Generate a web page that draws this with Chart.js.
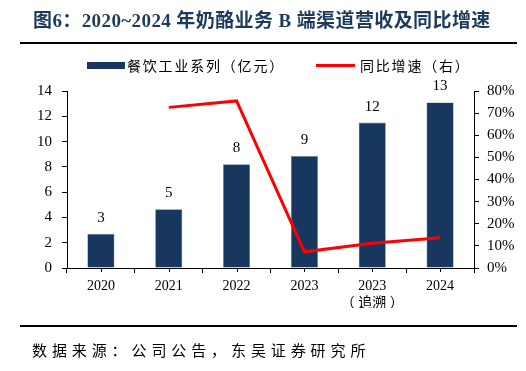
<!DOCTYPE html>
<html><head><meta charset="utf-8">
<script src="https://cdn.jsdelivr.net/npm/chart.js@4"></script>
<style>
html,body{margin:0;padding:0;background:#fff;}
#wrap{position:relative;width:526px;height:371px;overflow:hidden;}
canvas{position:absolute;left:0;top:0;}
.t{position:absolute;white-space:nowrap;}
#title{left:33px;top:5px;font:bold 19px 'Liberation Serif','Noto Sans CJK SC';color:#1b3a5c;letter-spacing:0.4px;}
.hr{position:absolute;left:20px;width:497px;height:2px;background:#000;}
#leg{top:55px;font:14px 'Noto Sans CJK SC';color:#000;letter-spacing:1.8px;}
#src{left:32px;top:339px;font:15px 'Noto Sans CJK SC';color:#000;letter-spacing:4.9px;}
</style></head>
<body><div id="wrap">
<canvas id="c" width="526" height="371"></canvas>
<div class="t" id="title">图6：2020~2024 年奶酪业务 B 端渠道营收及同比增速</div>
<div class="hr" style="top:42px"></div>
<div class="t" id="leg" style="left:87px"><span style="display:inline-block;width:38px;height:7px;background:#17375e;vertical-align:middle;margin-right:2px;margin-top:-3px"></span>餐饮工业系列（亿元）</div>
<div class="t" id="leg2" style="left:316px;top:55px;font:14px 'Noto Sans CJK SC';letter-spacing:1.8px;"><span style="display:inline-block;width:39px;height:3px;background:#ff0000;vertical-align:middle;margin-right:5px;margin-top:-3px"></span>同比增速（右）</div>
<div class="hr" style="top:325px"></div>
<div class="t" id="src">数据来源：公司公告，东吴证券研究所</div>
</div>
<script>
const categories = [['2020'], ['2021'], ['2022'], ['2023'], ['2023', '（ 追溯 ）'], ['2024']];
const revenue = [2.7, 4.65, 8.2, 8.85, 11.5, 13.1];
const revenueLabels = ['3', '5', '8', '9', '12', '13'];
const growth = [null, 72.6, 75.5, 7.3, 11.2, 13.7];
const leftTicks = [0, 14, 2];
const rightTicks = [0, 80, 10];

const serif = "'Liberation Serif','Noto Sans CJK SC'";

const labelPlugin = {
  id: 'barLabels',
  afterDatasetsDraw(chart) {
    const ctx = chart.ctx;
    const meta = chart.getDatasetMeta(1);
    ctx.save();
    ctx.font = "15px " + serif;
    ctx.fillStyle = '#000';
    ctx.textAlign = 'center';
    ctx.textBaseline = 'middle';
    meta.data.forEach((bar, i) => {
      ctx.fillText(revenueLabels[i], bar.x, bar.y - 16);
    });
    const xs = chart.scales.x;
    ctx.strokeStyle = '#000';
    ctx.lineWidth = 1;
    categories.forEach((c, i) => {
      const px = Math.round(xs.getPixelForValue(i)) + 0.5;
      ctx.beginPath();
      ctx.moveTo(px, xs.top);
      ctx.lineTo(px, xs.top + 4);
      ctx.stroke();
    });
    ctx.restore();
  }
};

new Chart(document.getElementById('c'), {
  data: {
    labels: categories,
    datasets: [
      { type: 'line', data: growth, yAxisID: 'y1', borderColor: '#ff0000', borderWidth: 3,
        pointRadius: 0, tension: 0, order: 0 },
      { type: 'bar', data: revenue, yAxisID: 'y', backgroundColor: '#17375e',
        borderColor: '#6d83a0', borderWidth: 0.6,
        categoryPercentage: 1, barPercentage: 0.4, order: 1 }
    ]
  },
  options: {
    responsive: false, animation: false,
    layout: { padding: { top: 91, bottom: 63, left: 0, right: 0 } },
    plugins: { legend: { display: false }, tooltip: { enabled: false } },
    scales: {
      x: {
        grid: { display: true, drawOnChartArea: false, drawTicks: true, tickLength: 5, color: '#000', offset: true },
        border: { display: true, color: '#000' },
        ticks: { color: '#000', font: { family: serif, size: 14 }, padding: 5, maxRotation: 0 },
        afterFit(s) { s.height = 40; }
      },
      y: {
        position: 'left', min: leftTicks[0], max: leftTicks[1],
        grid: { display: true, drawOnChartArea: false, drawTicks: true, tickLength: 5, color: '#000' },
        border: { display: true, color: '#000' },
        ticks: { stepSize: leftTicks[2], color: '#000', font: { family: serif, size: 15 }, padding: 10 },
        afterFit(s) { s.width = 67; }
      },
      y1: {
        position: 'right', min: rightTicks[0], max: rightTicks[1],
        grid: { display: true, drawOnChartArea: false, drawTicks: true, tickLength: 5, color: '#000' },
        border: { display: true, color: '#000' },
        ticks: { stepSize: rightTicks[2], color: '#000', font: { family: serif, size: 15 }, padding: 8,
          callback: v => v + '%' },
        afterFit(s) { s.width = 52; }
      }
    }
  },
  plugins: [labelPlugin]
});
</script>
</body></html>
